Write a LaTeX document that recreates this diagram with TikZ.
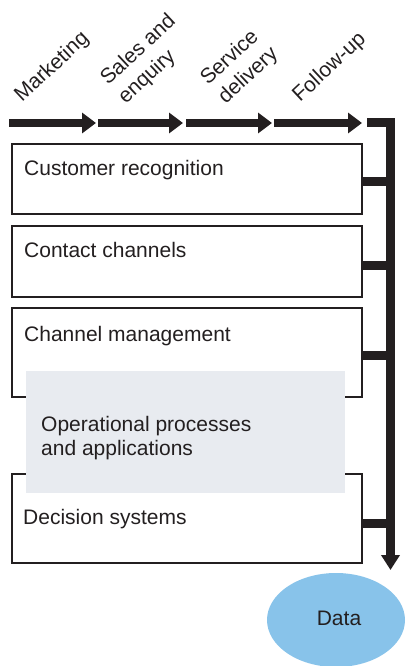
\documentclass[tikz,border=0pt]{standalone}
\usepackage{fontspec}
\setmainfont{Liberation Sans}
\usetikzlibrary{arrows.meta,shapes.geometric}
\definecolor{ink}{HTML}{231F20}
\definecolor{shade}{HTML}{E8EBF0}
\definecolor{datablue}{HTML}{88C3EA}
\tikzset{
  txt/.style={font=\fontsize{21}{24}\selectfont, text=ink, inner sep=0pt},
  stage/.style={txt, anchor=base west, rotate=43},
  boxframe/.style={draw=ink, line width=2pt, fill=white, inner sep=0pt, anchor=north west},
  flowarrow/.style={draw=ink, line width=8pt, -{Triangle[width=20pt,length=14pt]}},
  busline/.style={draw=ink, line width=9pt},
}
\begin{document}
\begin{tikzpicture}[x=1pt,y=-1pt]
\useasboundingbox (0,0) rectangle (405,666);

% stage labels
\node[stage] (mkt) at (22,103) {Marketing};
\node[stage] (sal) at (108,86) {\vtop{\baselineskip=26pt\hbox{Sales and}\hbox{enquiry}}};
\node[stage] (srv) at (208,86) {\vtop{\baselineskip=26pt\hbox{Service}\hbox{delivery}}};
\node[stage] (fol) at (300,103) {Follow-up};

% stage arrows
\coordinate (a0) at (9,123);
\coordinate (a1) at (96,123);
\coordinate (a2s) at (98,123);
\coordinate (a2) at (183,123);
\coordinate (a3s) at (186,123);
\coordinate (a3) at (272,123);
\coordinate (a4s) at (274,123);
\coordinate (a4) at (362,123);
\draw[flowarrow] (a0) -- (a1);
\draw[flowarrow] (a2s) -- (a2);
\draw[flowarrow] (a3s) -- (a3);
\draw[flowarrow] (a4s) -- (a4);

% boxes
\node[boxframe, minimum width=350pt, minimum height=70pt] (b1) at (11,143) {};
\node[boxframe, minimum width=350pt, minimum height=71pt] (b2) at (11,225) {};
\node[boxframe, minimum width=350pt, minimum height=89pt] (b3) at (11,307) {};
\node[boxframe, minimum width=350pt, minimum height=89pt] (b4) at (11,473) {};

\node[txt, anchor=base west] (t1) at (24,175) {Customer recognition};
\node[txt, anchor=base west] (t2) at (24,257) {Contact channels};
\node[txt, anchor=base west] (t3) at (24,341) {Channel management};
\node[txt, anchor=base west] (t4) at (23,524) {Decision systems};

% shaded overlay
\node[fill=shade, inner sep=0pt, anchor=north west, minimum width=319pt, minimum height=122pt] (ops) at (26,371) {};
\node[txt, anchor=base west] (opst) at (41,431) {\vtop{\hbox{Operational processes}\hbox{and applications}}};

% bus
\coordinate (busstart) at (367,123);
\coordinate (buscorner) at (390.5,123);
\coordinate (busend) at (390.5,570);
\draw[busline, line join=miter, -{Triangle[width=18pt,length=15pt]}] (busstart) -- (buscorner) -- (busend);
\coordinate (j1) at (390.5,181.5);
\coordinate (j2) at (390.5,265);
\coordinate (j3) at (390.5,355);
\coordinate (j4) at (390.5,523);
\draw[busline] (b1.east |- j1) -- (j1);
\draw[busline] (b2.east |- j2) -- (j2);
\draw[busline] (b3.east |- j3) -- (j3);
\draw[busline] (b4.east |- j4) -- (j4);

% data
\node[ellipse, fill=datablue, minimum width=138pt, minimum height=94pt, inner sep=0pt] (data) at (336,620) {};
\node[txt] (datat) at (339,618.5) {Data};
\end{tikzpicture}
\end{document}
